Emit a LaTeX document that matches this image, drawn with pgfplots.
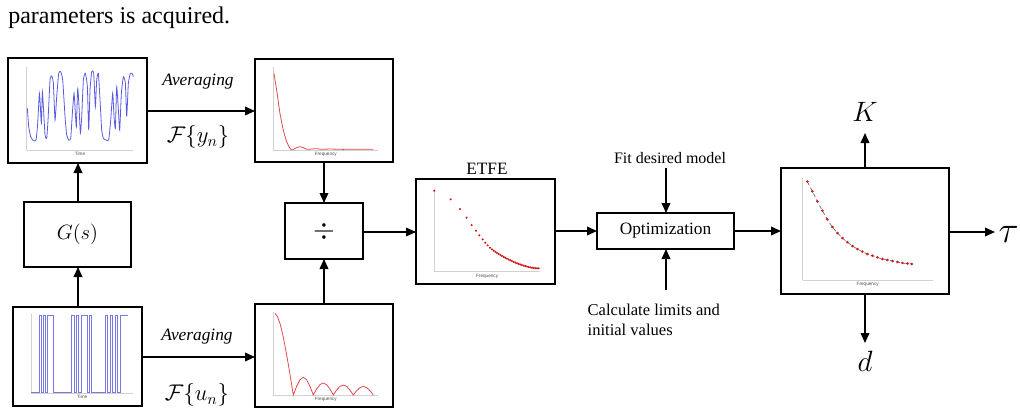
\RequirePackage{fix-cm}
\documentclass[border=0pt]{standalone}
\usepackage{fontspec}
\setmainfont{LiberationSerif}[Extension=.ttf, UprightFont=*-Regular, ItalicFont=*-Italic, BoldFont=*-Bold, BoldItalicFont=*-BoldItalic]
\setsansfont{Liberation Sans}
\usepackage{pgfplots}
\pgfplotsset{compat=1.18}
\usetikzlibrary{arrows.meta}

\definecolor{sigblue}{RGB}{90,90,225}
\definecolor{inblue}{RGB}{120,120,235}
\definecolor{specred}{RGB}{225,75,75}
\definecolor{dotred}{RGB}{215,20,20}
\newcommand\fs[1]{\fontsize{#1}{#1}\selectfont\rmfamily}

\pgfplotsset{
  mini/.style={scale only axis, anchor=south west, axis lines=left,
    axis line style={black!18, line width=0.6pt, -},
    xtick=\empty, ytick=\empty, clip=false,
    xlabel style={font=\sffamily\fontsize{3.5}{4}\selectfont, text=black!70, inner sep=0.5pt,
      at={(axis description cs:0.5,0)}, anchor=north, yshift=-1pt}},
}

\begin{document}
\begin{tikzpicture}
\begin{scope}[x=0.75pt, y=-0.75pt,
  blk/.style={draw, line width=1.25pt},
  arr/.style={line width=1.1pt, -{Triangle[length=7.5pt,width=6.5pt]}}]
\useasboundingbox (0,0) rectangle (1020,410);

% text cut off at the top edge
\node[anchor=base west, inner sep=0, font=\fs{18}] at (8,24) {parameters is acquired.};

% blocks
\draw[blk] (8,58) rectangle (147,163);
\draw[blk] (24,202) rectangle (131,267);
\node at (77.5,234.5) {\fs{15.5}$G(s)$};
\draw[blk] (13,307) rectangle (142,406);
\draw[blk] (255,59) rectangle (393,162);
\draw[blk] (285,203) rectangle (363,259);
\node at (324,231) {\fs{21}$\div$};
\draw[blk] (255,304) rectangle (393,407);
\draw[blk] (416,179) rectangle (555,284);
\node at (487,169) {\fs{13}ETFE};
\draw[blk] (597,213) rectangle (734,249);
\node at (665.5,231) {\fs{13}Optimization};
\draw[blk] (781,168) rectangle (949,294);

% arrows
\draw[arr] (78,307) -- (78,267);
\draw[arr] (78,202) -- (78,163);
\draw[arr] (147,111) -- (255,111);
\draw[arr] (142,357) -- (255,357);
\draw[arr] (324,162) -- (324,203);
\draw[arr] (324,304) -- (324,259);
\draw[arr] (363,232) -- (416,232);
\draw[arr] (555,231) -- (597,231);
\draw[arr] (666,168) -- (666,213);
\draw[arr] (666,290) -- (666,249);
\draw[arr] (734,231) -- (781,231);
\draw[arr] (865,168) -- (865,133);
\draw[arr] (865,294) -- (865,343);
\draw[arr] (949,232) -- (995,232);

% labels
\node at (198,82) {\fs{13}\itshape Averaging};
\node at (198,137) {\fs{17}$\mathcal{F}\{y_n\}$};
\node at (197,337) {\fs{13}\itshape Averaging};
\node at (197,395) {\fs{17}$\mathcal{F}\{u_n\}$};
\node at (670,158) {\fs{12}Fit desired model};
\node[anchor=west, align=left, font=\fs{12.4}] at (583,320) {Calculate limits and\\[3pt]initial values};
\node at (865,112) {\fs{21}$K$};
\node at (865,361) {\fs{22}$d$};
\node[anchor=west] at (994,234) {\fs{28}$\tau$};

% anchors of the small plots
\coordinate (p1) at (26.7,150);
\coordinate (p2) at (31,393);
\coordinate (p3) at (273.3,150);
\coordinate (p4) at (273.3,395);
\coordinate (p5) at (434.3,271.7);
\coordinate (p6) at (802.7,280);
\end{scope}

% output y_n
\begin{axis}[mini, at={(p1)}, width=80pt, height=62.5pt,
  xmin=0, xmax=320, ymin=0, ymax=250, xlabel={Time}]
\addplot[sigblue, line width=0.6pt, smooth, tension=0.3] coordinates {
(2,125)(6,70)(12,40)(20,28)(28,30)(33,80)(38,170)(41,130)(44,80)(47,175)
(50,130)(55,45)(60,35)(64,90)(70,210)(75,222)(80,200)(85,90)(90,160)(96,230)
(102,235)(108,210)(115,100)(120,45)(126,30)(132,35)(137,110)(142,170)(146,110)(149,70)
(153,185)(157,130)(161,50)(165,100)(170,210)(176,230)(182,190)(186,60)(190,180)(195,235)
(201,230)(206,130)(210,210)(215,230)(220,150)(225,60)(230,35)(238,30)(246,30)(252,90)
(258,170)(262,100)(266,65)(270,190)(275,120)(279,60)(284,170)(290,220)(296,200)(300,100)
(305,200)(311,230)(316,230)(320,220)};
\end{axis}

% input u_n
\begin{axis}[mini, at={(p2)}, width=76.75pt, height=59.5pt,
  xmin=0, xmax=307, ymin=0, ymax=238, xlabel={Time}]
\addplot[inblue, line width=0.45pt, const plot] coordinates {
(0,3)(25,233)(32,3)(37,233)(43,3)(50,233)(67,3)(122,233)(129,3)(135,233)
(141,3)(151,233)(169,3)(175,233)(182,3)(222,233)(229,3)(237,233)(244,3)(252,233)
(259,3)(267,233)(292,233)};
\end{axis}

% |Y|
\begin{axis}[mini, at={(p3)}, width=78.75pt, height=62.5pt,
  xmin=0, xmax=315, ymin=0, ymax=250, xlabel={Frequency}]
\addplot[specred, line width=0.6pt, smooth, tension=0.4] coordinates {
(2,230)(10,180)(20,110)(30,60)(40,25)(50,5)(57,0)(65,5)(78,10)(90,7)
(102,2)(115,3)(130,4)(145,2)(170,3)(200,2)(230,2)(260,2)(300,2)};
\end{axis}

% |U|
\begin{axis}[mini, at={(p4)}, width=78.75pt, height=62.5pt,
  xmin=0, xmax=315, ymin=0, ymax=250, xlabel={Frequency}]
\addplot[specred, line width=0.6pt] coordinates {
(5,245)(12,236)(20,215)(28,183)(36,143)(44,98)(52,50)(60,0)
(70,26)(80,46)(90,53)(100,46)(110,26)(120,0)
(130,18)(140,31)(150,36)(160,31)(170,18)(180,0)
(190,15)(200,26)(210,30)(220,26)(230,15)(240,0)
(250,13)(260,22)(270,26)(280,22)(290,13)(300,0)};
\end{axis}

% ETFE
\begin{axis}[mini, at={(p5)}, width=79.25pt, height=62.5pt,
  xmin=0, xmax=317, ymin=0, ymax=250, xlabel={Frequency}]
\addplot[only marks, mark=*, mark size=0.55pt, dotred] coordinates {
(0,243)(49,217)(77,188)(97,162)(112,140)(125,123)(135,109)(145,97)(153,87)(160,79)
(167,72)(173,67)(178,63)(183,59.7)(188,56.5)(193,53.4)(198,50.4)(203,47.4)(208,44.6)(213,41.8)
(218,39.2)(223,36.6)(228,34.2)(233,31.8)(238,29.5)(243,27.3)(248,25.3)(253,23.3)(258,21.5)(263,19.8)
(268,18.2)(273,16.7)(278,15.3)(283,14.1)(288,13)(293,12.1)(298,11.3)(303,10.6)(308,10.2)(313,10)};
\end{axis}

% fitted model
\begin{axis}[mini, at={(p6)}, width=97.5pt, height=76.25pt,
  xmin=0, xmax=390, ymin=0, ymax=305, xlabel={Frequency}]
\addplot[black!60, line width=0.5pt, densely dashed, smooth] coordinates {
(14,295)(29,266)(44,236)(59,208)(74,182)(89,159)(104,141)(119,126)(134,113.5)(149,102)
(164,93)(179,85)(194,78)(209,73)(224,68)(239,63)(254,60)(269,57)(284,54)(299,51)
(314,49.5)(327,48)};
\addplot[only marks, mark=*, mark size=0.75pt, dotred] coordinates {
(14,295)(29,266)(44,236)(59,208)(74,182)(89,159)(104,141)(119,126)(134,113.5)(149,102)
(164,93)(179,85)(194,78)(209,73)(224,68)(239,63)(254,60)(269,57)(284,54)(299,51)
(314,49.5)(327,48)};
\end{axis}
\end{tikzpicture}
\end{document}
